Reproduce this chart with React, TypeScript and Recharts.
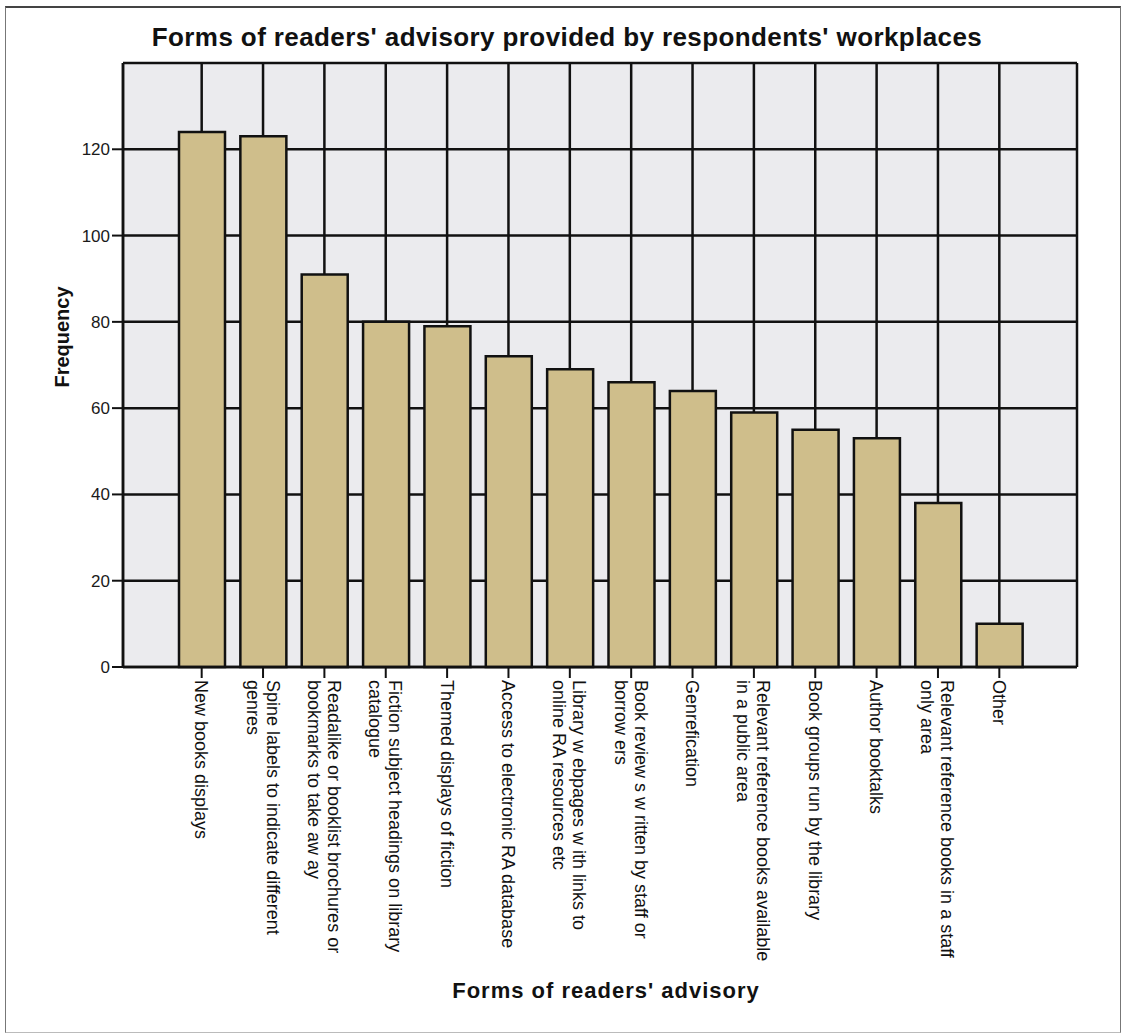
import React from 'react'
import { BarChart, Bar, XAxis, YAxis, CartesianGrid, Label } from 'recharts'

// categories (line breaks follow the wrapped tick labels in the original)
const categories = [
  'New books displays',
  'Spine labels to indicate different\ngenres',
  'Readalike or booklist brochures or\nbookmarks to take aw ay',
  'Fiction subject headings on library\ncatalogue',
  'Themed displays of fiction',
  'Access to electronic RA database',
  'Library w ebpages w ith links to\nonline RA resources etc',
  'Book review s w ritten by staff or\nborrow ers',
  'Genrefication',
  'Relevant reference books available\nin a public area',
  'Book groups run by the library',
  'Author booktalks',
  'Relevant reference books in a staff\nonly area',
  'Other',
]

const frequencies = [124, 123, 91, 80, 79, 72, 69, 66, 64, 59, 55, 53, 38, 10]

const yTicks = [0, 20, 40, 60, 80, 100, 120]

const chartData = categories.map((name, i) => ({ name, value: frequencies[i] }))

const FONT = '"Liberation Sans", Arial, sans-serif'
const INK = '#111'

function RotatedTick({ x, y, payload }: any) {
  const lines = String(payload.value).split('\n')
  return (
    <g transform={`translate(${x},${y})`}>
      <text transform="rotate(90)" fontSize={18} fontFamily={FONT} fill={INK}>
        {lines.map((line: string, i: number) => (
          <tspan key={i} x={0} y={6.5 + (i - (lines.length - 1) / 2) * 20}>
            {line}
          </tspan>
        ))}
      </text>
    </g>
  )
}

function YTitle({ viewBox }: any) {
  const cx = viewBox.x + 69
  const cy = viewBox.y + viewBox.height / 2 - 28
  return (
    <text
      x={cx}
      y={cy}
      transform={`rotate(-90, ${cx}, ${cy})`}
      textAnchor="middle"
      fontSize={20}
      fontWeight="bold"
      fontFamily={FONT}
      fill={INK}
    >
      Frequency
    </text>
  )
}

function XTitle({ viewBox }: any) {
  return (
    <text
      x={viewBox.x + viewBox.width / 2 + 6}
      y={viewBox.y + 331}
      textAnchor="middle"
      fontSize={22}
      fontWeight="bold"
      fontFamily={FONT}
      letterSpacing={1}
      fill={INK}
    >
      Forms of readers' advisory
    </text>
  )
}

export default function App() {
  return (
    <div style={{ position: 'absolute', left: 0, top: 0, width: 1124, height: 1034, background: '#fff' }}>
      {/* frame round the picture */}
      <div
        style={{
          position: 'absolute',
          left: 5,
          top: 6,
          width: 1114,
          height: 1024,
          borderTop: '2px solid #444',
          borderLeft: '1px solid #777',
          borderRight: '1px solid #777',
          borderBottom: '1px solid #bbb',
        }}
      />
      <div
        style={{
          position: 'absolute',
          left: 0,
          top: 22,
          width: 1134,
          textAlign: 'center',
          fontFamily: FONT,
          fontWeight: 'bold',
          fontSize: 26,
          letterSpacing: 0.4,
          lineHeight: '30px',
          color: INK,
        }}
      >
        Forms of readers' advisory provided by respondents' workplaces
      </div>
      <div style={{ position: 'absolute', left: 0, top: 0 }}>
        <BarChart width={1124} height={1034} data={chartData} margin={{ top: 63, right: 47, bottom: 0, left: 0 }}>
          <CartesianGrid fill="#ebebee" stroke={INK} strokeWidth={2.5} />
          <XAxis
            dataKey="name"
            interval={0}
            height={367}
            padding={{ left: 48, right: 47 }}
            tick={<RotatedTick />}
            tickSize={11}
            tickMargin={2}
            tickLine={{ stroke: INK, strokeWidth: 2 }}
            axisLine={{ stroke: INK, strokeWidth: 2.5 }}
          >
            <Label content={<XTitle />} />
          </XAxis>
          <XAxis
            xAxisId="top"
            dataKey="name"
            orientation="top"
            height={0}
            tick={false}
            tickLine={false}
            padding={{ left: 48, right: 47 }}
            axisLine={{ stroke: INK, strokeWidth: 2.5 }}
          />
          <YAxis
            width={123}
            domain={[0, 140]}
            ticks={yTicks}
            interval={0}
            tickSize={11}
            tickMargin={2}
            tick={{ fontSize: 17, fill: '#1a1a1a', fontFamily: FONT }}
            tickLine={{ stroke: INK, strokeWidth: 2 }}
            axisLine={{ stroke: INK, strokeWidth: 2.5 }}
          >
            <Label content={<YTitle />} />
          </YAxis>
          <YAxis
            yAxisId="right"
            orientation="right"
            width={0}
            domain={[0, 140]}
            tick={false}
            tickLine={false}
            axisLine={{ stroke: INK, strokeWidth: 2.5 }}
          />
          <Bar dataKey="value" fill="#cfbe8b" stroke={INK} strokeWidth={2.5} barSize={46} isAnimationActive={false} />
        </BarChart>
      </div>
    </div>
  )
}
